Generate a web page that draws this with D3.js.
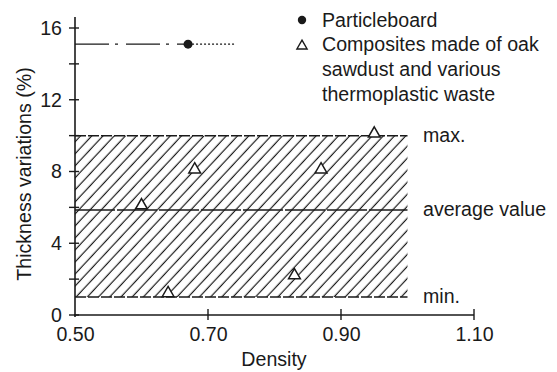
<!DOCTYPE html>
<html><head><meta charset="utf-8">
<script src="https://cdn.jsdelivr.net/npm/d3@7/dist/d3.min.js"></script>
<style>body{margin:0;background:#fff}svg{display:block}text{font-family:"Liberation Sans",Arial,sans-serif;fill:#1a1a1a}</style>
</head><body>
<script>
const xTicks = [0.5, 0.7, 0.9, 1.1];
const xTickLabels = ["0.50", "0.70", "0.90", "1.10"];
const yTicks = [0, 4, 8, 12, 16];
const yMinorTicks = [2, 6, 10, 14];
const compositeDensity = [0.60, 0.64, 0.68, 0.83, 0.87, 0.95];
const compositeThickness = [6.0, 1.1, 8.0, 2.1, 8.0, 10.0];
const particleboardDensity = [0.67];
const particleboardThickness = [15.1];
const particleboardRange = [0.50, 0.74];
const bandMin = 1.0, bandMax = 10.0, bandAverage = 5.85;
const bandX = [0.50, 1.00];
const bandLabels = ["max.", "average value", "min."];
const legendLabels = ["Particleboard", ["Composites made of oak", "sawdust and various", "thermoplastic waste"]];

const W = 557, H = 372, ink = "#1a1a1a", FS = 19.6;
const svg = d3.select("body").append("svg").attr("width", W).attr("height", H);
const x = d3.scaleLinear().domain([0.5, 1.1]).range([75, 474]);
const y = d3.scaleLinear().domain([0, 16]).range([315, 28]);

// hatch pattern
const defs = svg.append("defs");
const pat = defs.append("pattern").attr("id", "hatch").attr("patternUnits", "userSpaceOnUse")
  .attr("width", 8.2).attr("height", 10).attr("patternTransform", "rotate(43)");
pat.append("line").attr("x1", 4).attr("x2", 4).attr("y1", 0).attr("y2", 10)
  .attr("stroke", ink).attr("stroke-width", 1.2);

svg.append("rect").attr("x", x(bandX[0])).attr("y", y(bandMax))
  .attr("width", x(bandX[1]) - x(bandX[0])).attr("height", y(bandMin) - y(bandMax))
  .attr("fill", "url(#hatch)");

// band lines
const bandVals = [bandMax, bandAverage, bandMin];
const dashes = ["11,2", "40,2", "11,2"];
svg.selectAll(".bandline").data(bandVals).join("line")
  .attr("x1", x(bandX[0])).attr("x2", x(bandX[1]))
  .attr("y1", d => y(d)).attr("y2", d => y(d))
  .attr("stroke", ink).attr("stroke-width", 1.5)
  .attr("stroke-dasharray", (d, i) => dashes[i]);
svg.selectAll(".bandlabel").data(bandVals).join("text")
  .attr("x", 423).attr("y", d => y(d) + 6)
  .attr("font-size", FS).text((d, i) => bandLabels[i]);

// axes
const yAxis = svg.append("g").attr("transform", `translate(${x(0.5)},0)`)
  .call(d3.axisLeft(y).tickValues(yTicks).tickSize(0).tickPadding(13));
yAxis.select(".domain").remove();
yAxis.append("line").attr("x1", 0).attr("x2", 0).attr("y1", 17).attr("y2", 317)
  .attr("stroke", ink).attr("stroke-width", 1.6);
yAxis.selectAll(".tk").data(yTicks.concat(yMinorTicks)).join("line")
  .attr("x1", -6).attr("x2", 4).attr("y1", d => y(d)).attr("y2", d => y(d))
  .attr("stroke", ink).attr("stroke-width", 1.4);
yAxis.selectAll(".tick text").attr("font-size", FS).attr("fill", ink)
  .style("font-family", '"Liberation Sans",Arial,sans-serif');

const xAxis = svg.append("g").attr("transform", `translate(0,${y(0)})`)
  .call(d3.axisBottom(x).tickValues(xTicks).tickFormat((d, i) => xTickLabels[i]).tickSize(0).tickPadding(12));
xAxis.select(".domain").remove();
xAxis.append("line").attr("x1", x(0.5) - 1).attr("x2", x(1.1)).attr("y1", 0).attr("y2", 0)
  .attr("stroke", ink).attr("stroke-width", 1.6);
xAxis.selectAll(".tk").data(xTicks.slice(1)).join("line")
  .attr("x1", d => x(d)).attr("x2", d => x(d)).attr("y1", -6).attr("y2", 5)
  .attr("stroke", ink).attr("stroke-width", 1.4);
xAxis.selectAll(".tick text").attr("font-size", FS).attr("fill", ink)
  .style("font-family", '"Liberation Sans",Arial,sans-serif');

svg.append("text").attr("x", 274).attr("y", 366).attr("text-anchor", "middle")
  .attr("font-size", FS).text("Density");
svg.append("text").attr("transform", "translate(31,174) rotate(-90)").attr("text-anchor", "middle")
  .attr("font-size", FS).text("Thickness variations (%)");

// particleboard
svg.append("line").attr("x1", x(particleboardRange[0])).attr("x2", x(particleboardDensity[0]))
  .attr("y1", y(particleboardThickness[0])).attr("y2", y(particleboardThickness[0]))
  .attr("stroke", ink).attr("stroke-width", 1.4).attr("stroke-dasharray", "34,6,3,8");
svg.append("line").attr("x1", x(particleboardDensity[0])).attr("x2", x(particleboardRange[1]))
  .attr("y1", y(particleboardThickness[0])).attr("y2", y(particleboardThickness[0]))
  .attr("stroke", ink).attr("stroke-width", 1.2).attr("stroke-dasharray", "2,2");
svg.selectAll(".pb").data(particleboardDensity).join("circle")
  .attr("cx", d => x(d)).attr("cy", (d, i) => y(particleboardThickness[i])).attr("r", 4.5)
  .attr("fill", ink);

// composites
const tri = d3.symbol().type(d3.symbolTriangle).size(60);
svg.selectAll(".cp").data(compositeDensity).join("path")
  .attr("d", tri).attr("transform", (d, i) => `translate(${x(d)},${y(compositeThickness[i]) - 2})`)
  .attr("fill", "#fff").attr("stroke", ink).attr("stroke-width", 1.5);

// legend
svg.append("circle").attr("cx", 302).attr("cy", 20).attr("r", 4.2).attr("fill", ink);
svg.append("text").attr("x", 322).attr("y", 27).attr("font-size", FS).text(legendLabels[0]);
svg.append("path").attr("d", d3.symbol().type(d3.symbolTriangle).size(45))
  .attr("transform", "translate(302,46)").attr("fill", "#fff").attr("stroke", ink).attr("stroke-width", 1.4);
svg.append("text").attr("font-size", FS).selectAll("tspan").data(legendLabels[1]).join("tspan")
  .attr("x", 322).attr("y", (d, i) => 51 + i * 25).text(d => d);
</script>
</body></html>
